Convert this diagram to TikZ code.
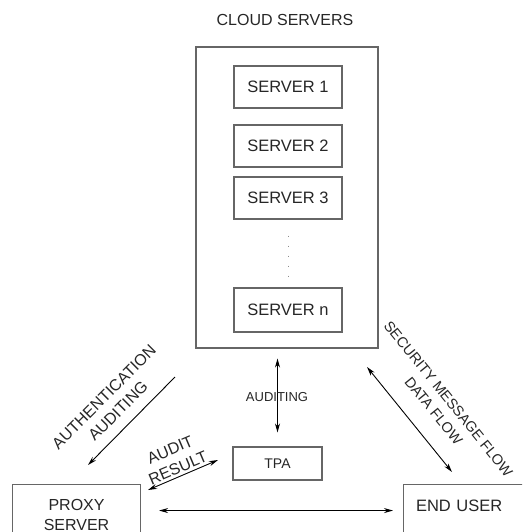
\documentclass[tikz,border=0pt]{standalone}
\usepackage{fontspec}
\setmainfont{Liberation Sans}
\usetikzlibrary{arrows.meta}

\tikzset{
    box/.style={draw=black!60, line width=1.1pt, text=black!85},
    srv/.style={box, minimum width=108pt, minimum height=42pt, font=\fontsize{16.5}{19}\selectfont},
    lbl/.style={text=black!85, align=center, font=\fontsize{16}{20}\selectfont},
    flow/.style={line width=0.9pt, >={Stealth[length=9pt,width=5pt]}}
}

\begin{document}
\begin{tikzpicture}[x=1pt, y=-1pt]
    \useasboundingbox (0,0) rectangle (522,532);
    \clip (0,0) rectangle (522,532);

    % cloud side
    \node[lbl] (title) at (285,20) {CLOUD SERVERS};
    \node[box, minimum width=182pt, minimum height=301pt] (cloud) at (287,197.5) {};
    \node[srv] (S1) at (288,87) {SERVER 1};
    \node[srv] (S2) at (288,146) {SERVER 2};
    \node[srv] (S3) at (288,198) {SERVER 3};
    \node[srv, minimum height=44pt] (Sn) at (288,310) {SERVER n};
    \draw[black!45, line width=1pt, dash pattern=on 1pt off 9pt] (S3.south) ++(0,16) -- ++(0,46);

    % lower boxes
    \node[box, minimum width=89pt, minimum height=33pt, font=\fontsize{14}{16}\selectfont] (tpa) at (277.5,463.5) {TPA};
    \node[box, anchor=north west, minimum width=128pt, minimum height=60pt, align=center,
          font=\fontsize{16}{20}\selectfont] (proxy) at (12,484) {PROXY\\SERVER};
    \node[box, anchor=north west, text width=120pt, inner xsep=12.5pt, minimum height=52pt,
          text depth=10pt, font=\fontsize{16.5}{19}\selectfont] (user) at (403,484) {END USER};

    % free ends
    \coordinate (authA) at (175,377);
    \coordinate (authB) at (88,465);
    \coordinate (resA) at (148,490);
    \coordinate (resB) at (218,460);
    \coordinate (secA) at (367,367);
    \coordinate (secB) at (452,472);

    % connectors
    \draw[flow, <->, shorten <=10pt, shorten >=14pt] (cloud.south -| tpa.north) -- (tpa.north);
    \node[lbl, font=\fontsize{13}{15}\selectfont] (audit) at (277,397) {AUDITING};
    \draw[flow, <->, shorten <=18pt, shorten >=10pt] (proxy.east |- user.west) -- (user.west);
    \draw[flow, ->] (authA) -- (authB);
    \draw[flow, <->] (resA) -- (resB);
    \draw[flow, <->] (secA) -- (secB);

    % labels
    \node[lbl, rotate=45] (authlbl) at (111,404) {AUTHENTICATION\\AUDITING};
    \node[lbl, rotate=23] (reslbl) at (174,459) {AUDIT\\RESULT};
    \node[lbl, font=\fontsize{14.5}{19}\selectfont, rotate=-51] (seclbl) at (441,405) {SECURITY MESSAGE FLOW\\DATA FLOW};

\end{tikzpicture}
\end{document}
